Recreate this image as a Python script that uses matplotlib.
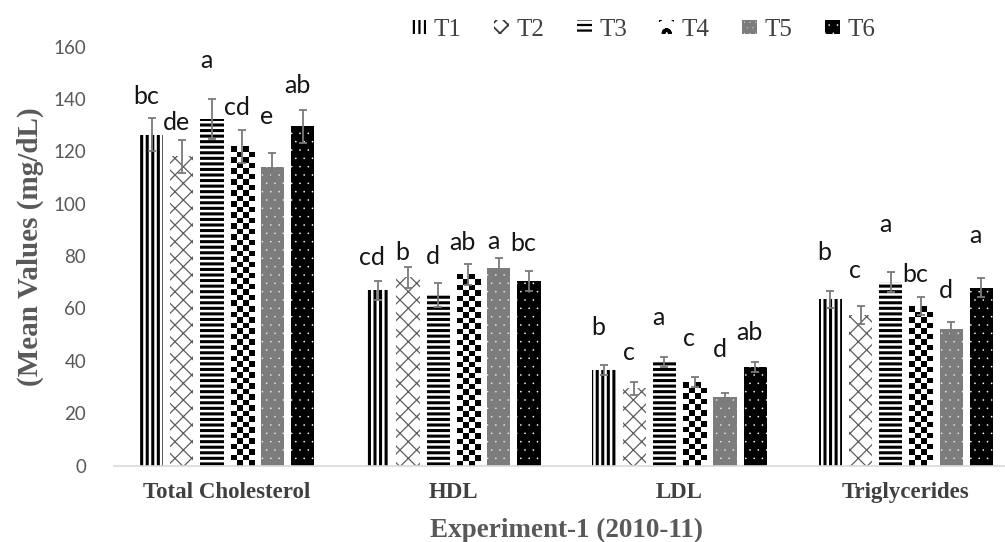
import numpy as np
import matplotlib.pyplot as plt
from matplotlib.patches import Patch

# data
categories = ['Total Cholesterol', 'HDL', 'LDL', 'Triglycerides']
treatments = ['T1', 'T2', 'T3', 'T4', 'T5', 'T6']

t1 = [126.4, 67.0, 36.5, 63.5]
t2 = [118.1, 72.0, 29.5, 57.5]
t3 = [132.4, 65.0, 39.7, 70.2]
t4 = [122.0, 73.0, 32.0, 61.0]
t5 = [114.1, 75.4, 26.0, 52.0]
t6 = [129.6, 70.6, 37.8, 68.0]

err_t1 = [6.4, 3.6, 1.8, 3.2]
err_t2 = [6.2, 4.0, 2.5, 3.5]
err_t3 = [7.8, 4.6, 1.9, 3.8]
err_t4 = [6.3, 4.0, 2.0, 3.5]
err_t5 = [5.3, 3.8, 1.6, 3.0]
err_t6 = [6.4, 3.8, 1.9, 3.5]

letters_t1 = ['bc', 'cd', 'b', 'b']
letters_t2 = ['de', 'b', 'c', 'c']
letters_t3 = ['a', 'd', 'a', 'a']
letters_t4 = ['cd', 'ab', 'c', 'bc']
letters_t5 = ['e', 'a', 'd', 'd']
letters_t6 = ['ab', 'bc', 'ab', 'a']

# baseline height of the significance letters (mg/dL)
letter_y_t1 = [138.0, 76.7, 50.0, 78.6]
letter_y_t2 = [128.3, 78.5, 40.4, 71.6]
letter_y_t3 = [152.0, 77.0, 53.7, 89.4]
letter_y_t4 = [134.0, 82.4, 45.5, 70.3]
letter_y_t5 = [130.3, 82.8, 41.4, 64.0]
letter_y_t6 = [142.4, 81.8, 48.0, 85.0]

means = [t1, t2, t3, t4, t5, t6]
errs = [err_t1, err_t2, err_t3, err_t4, err_t5, err_t6]
letters = [letters_t1, letters_t2, letters_t3, letters_t4, letters_t5, letters_t6]
letter_y = [letter_y_t1, letter_y_t2, letter_y_t3, letter_y_t4, letter_y_t5, letter_y_t6]

# bar styles
hatches = ['|||', 'xx', '---', None, '..', '..']
faces = ['white', 'white', 'white', 'white', '#7c7c7c', 'black']
hcolors = ['black', '#5e5e5e', 'black', 'black', '#e8e8e8', 'white']
hwidths = [2.2, 0.9, 2.2, 1.0, 0.0, 0.0]

plt.rcParams['hatch.linewidth'] = 2.2
serif = 'Liberation Serif'
sans = 'Lato'

fig = plt.figure(figsize=(10.05, 5.42), dpi=100)
ax = fig.add_axes([0.1134, 0.1411, 0.9005, 0.7727])

x = np.arange(len(categories))
pitch = 0.1336
width = 0.103
ax.set_xlim(-0.5, 3.5)
ax.set_ylim(0, 160)

bars_all = []
for i in range(6):
    xs = x + (i - 2.5) * pitch
    bars = ax.bar(xs, means[i], width, color=faces[i], edgecolor=hcolors[i],
                  hatch=hatches[i], linewidth=0, zorder=2)
    for b in bars:
        if hasattr(b, 'set_hatch_linewidth'):
            b.set_hatch_linewidth(hwidths[i])
    bars_all.append(bars)
    ax.errorbar(xs, means[i], yerr=errs[i], fmt='none', ecolor='#7a7a7a',
                elinewidth=1.3, capsize=3.2, capthick=1.3, zorder=4)
    for xi, lab, ly in zip(xs, letters[i], letter_y[i]):
        ax.annotate(lab, (xi, ly), xytext=(-4, 0), textcoords='offset points',
                    ha='center', va='baseline', fontsize=18, family=sans,
                    color='#151515', zorder=5)

# checkerboard fill for T4 (no matching hatch in matplotlib)
def checker(rect, px=5.5):
    x0, y0 = rect.get_x(), rect.get_y()
    w, h = rect.get_width(), rect.get_height()
    X0, Y0 = ax.transData.transform((x0, y0))
    X1, Y1 = ax.transData.transform((x0 + w, y0 + h))
    nx = max(1, int(round((X1 - X0) / px)))
    ny = max(1, int(round((Y1 - Y0) / px)))
    img = np.indices((ny, nx)).sum(axis=0) % 2
    im = ax.imshow(img, cmap='gray', vmin=0, vmax=1, extent=(x0, x0 + w, y0, y0 + h),
                   interpolation='nearest', aspect='auto', zorder=2.5)
    im.set_clip_path(rect)

for b in bars_all[3]:
    checker(b)

ax.set_xlim(-0.5, 3.5)
ax.set_ylim(0, 160)
ax.set_aspect('auto')

ax.set_yticks(np.arange(0, 161, 20))
ax.tick_params(axis='y', length=0, pad=20, labelsize=13.5, labelcolor='#595959')
for t in ax.get_yticklabels():
    t.set_family(sans)
ax.set_xticks(x)
ax.set_xticklabels(categories, fontsize=16.5, family=serif, fontweight='bold', color='#404040')
ax.tick_params(axis='x', length=0, pad=12)

for s in ['top', 'right', 'left']:
    ax.spines[s].set_visible(False)
ax.spines['bottom'].set_color('#d9d9d9')
ax.spines['bottom'].set_linewidth(1.2)

fig.text(0.5637, 0.022, 'Experiment-1 (2010-11)', ha='center', va='center',
         fontsize=19.5, family=serif, fontweight='bold', color='#595959')
fig.text(0.030, 0.545, '(Mean Values (mg/dL)', ha='center', va='center', rotation=90,
         fontsize=21, family=serif, fontweight='bold', color='#595959')

# legend proxies
leg_hatch = ['|||', 'xx', '---', 'o', '...', '..']
leg_face = ['white', 'white', 'white', 'white', '#7c7c7c', 'black']
leg_hcol = ['black', '#3a3a3a', 'black', 'black', '#e8e8e8', 'white']
leg_hw = [1.6, 1.3, 1.6, 2.5, 0.0, 0.0]
handles = [Patch(facecolor=leg_face[i], edgecolor=leg_hcol[i], hatch=leg_hatch[i], linewidth=0)
           for i in range(6)]
leg = fig.legend(handles, treatments, loc='center', bbox_to_anchor=(0.64, 0.945), ncol=6,
                 frameon=False, prop={'family': serif, 'size': 18}, handlelength=0.6,
                 handleheight=0.5, handletextpad=0.3, columnspacing=1.3)
for t in leg.get_texts():
    t.set_color('#404040')
for h, hw in zip(leg.legend_handles, leg_hw):
    if hasattr(h, 'set_hatch_linewidth'):
        h.set_hatch_linewidth(hw)

fig.savefig('out.png', dpi=100)
